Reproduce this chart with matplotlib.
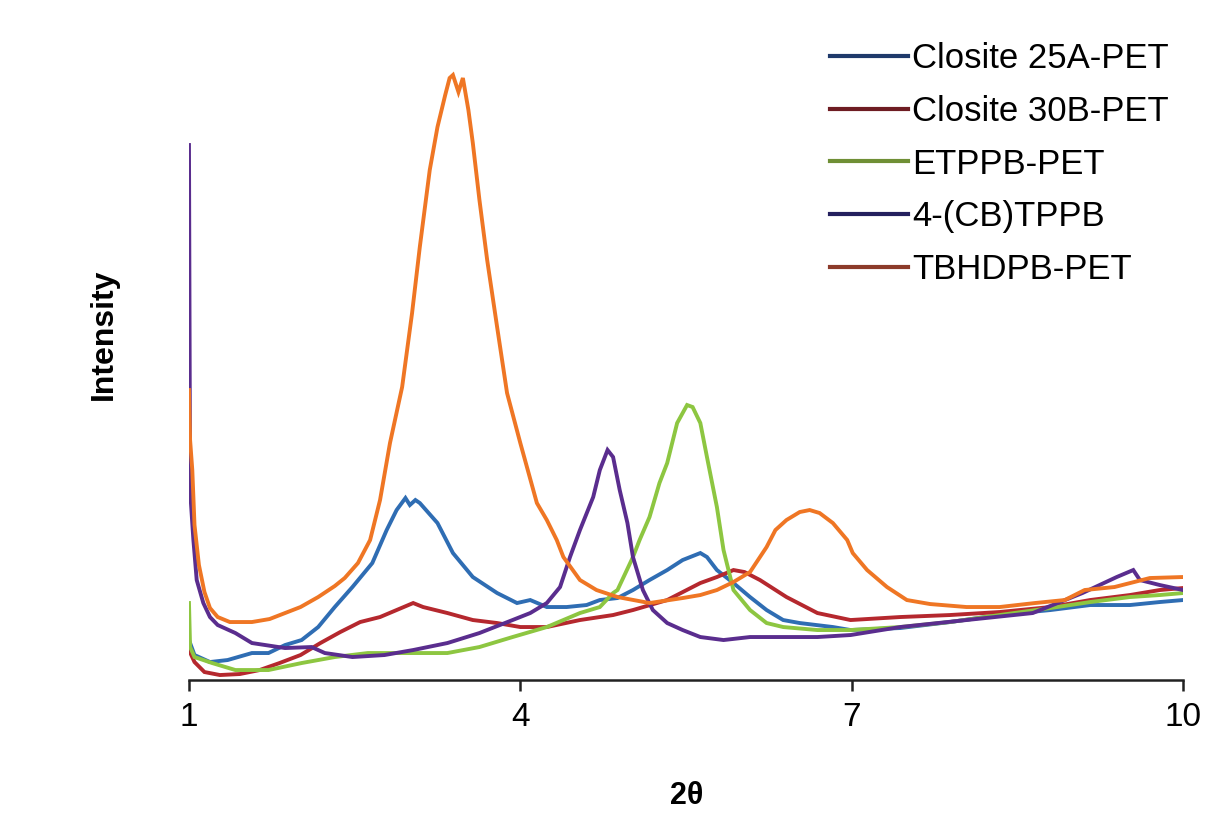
import numpy as np
import matplotlib.pyplot as plt
from matplotlib.lines import Line2D

plt.rcParams['font.family'] = ['Liberation Sans', 'DejaVu Sans']

# XRD patterns, 2theta vs intensity (arbitrary units)
tt_25a = [1.00, 1.05, 1.19, 1.35, 1.57, 1.72, 1.87, 2.02, 2.17, 2.32, 2.48, 2.66, 2.79, 2.88,
          2.96, 3.00, 3.05, 3.09, 3.25, 3.39, 3.57, 3.79, 3.97, 4.09, 4.24, 4.42, 4.60, 4.72,
          4.88, 5.02, 5.17, 5.33, 5.47, 5.63, 5.69, 5.78, 5.93, 6.08, 6.23, 6.38, 6.53, 6.83,
          6.99, 7.44, 7.89, 8.34, 8.80, 9.16, 9.52, 9.79, 10.00]
int_25a = [40, 25, 18, 20, 27, 27, 35, 40, 53, 73, 93, 117, 150, 170,
           182, 175, 180, 177, 157, 127, 103, 87, 77, 80, 73, 73, 75, 80,
           82, 90, 100, 110, 120, 127, 123, 110, 97, 83, 70, 60, 57, 53,
           50, 52, 58, 65, 70, 75, 75, 78, 80]

tt_30b = [1.00, 1.05, 1.14, 1.28, 1.46, 1.64, 1.82, 2.01, 2.19, 2.37, 2.55, 2.73, 2.88, 3.03,
          3.12, 3.34, 3.57, 3.79, 4.00, 4.24, 4.54, 4.84, 5.02, 5.33, 5.63, 5.78, 5.93, 6.03,
          6.17, 6.41, 6.69, 6.99, 7.44, 7.89, 8.34, 8.80, 9.16, 9.52, 9.79, 10.00]
int_30b = [30, 18, 8, 5, 6, 10, 17, 25, 37, 48, 58, 63, 70, 77,
           73, 67, 60, 57, 53, 53, 60, 65, 70, 80, 97, 103, 110, 108,
           100, 83, 67, 60, 63, 65, 68, 73, 80, 85, 90, 92]

tt_etppb = [1.00, 1.01, 1.05, 1.21, 1.42, 1.72, 2.02, 2.32, 2.62, 2.93, 3.34, 3.63, 3.93, 4.24,
            4.54, 4.72, 4.84, 4.88, 5.02, 5.08, 5.17, 5.26, 5.33, 5.42, 5.51, 5.56, 5.63, 5.69,
            5.78, 5.84, 5.93, 6.08, 6.23, 6.38, 6.69, 6.99, 7.44, 7.89, 8.34, 8.80, 9.16, 9.52,
            9.79, 10.00]
int_etppb = [77, 33, 23, 17, 10, 10, 17, 23, 27, 27, 27, 33, 43, 53,
             67, 73, 87, 90, 123, 140, 163, 197, 217, 257, 275, 273, 257, 223,
             173, 130, 90, 70, 57, 53, 50, 50, 53, 58, 65, 72, 78, 83,
             85, 87]

tt_cb = [1.00, 1.01, 1.04, 1.07, 1.13, 1.19, 1.26, 1.42, 1.57, 1.87, 2.11, 2.23, 2.48, 2.77,
         3.03, 3.34, 3.63, 3.93, 4.09, 4.24, 4.36, 4.45, 4.54, 4.66, 4.72, 4.79, 4.84, 4.90,
         4.97, 5.02, 5.11, 5.20, 5.33, 5.47, 5.63, 5.84, 6.08, 6.38, 6.69, 6.99, 7.44, 8.04,
         8.64, 9.09, 9.40, 9.55, 9.61, 9.79, 10.00]
int_cb = [535, 190, 140, 100, 77, 63, 55, 47, 37, 32, 33, 27, 23, 25,
          30, 37, 47, 60, 67, 77, 93, 123, 150, 183, 210, 230, 223, 190,
          157, 123, 90, 70, 57, 50, 43, 40, 43, 43, 43, 45, 53, 60,
          67, 87, 103, 110, 100, 95, 90]

tt_tbhd = [1.00, 1.01, 1.03, 1.05, 1.09, 1.14, 1.19, 1.26, 1.37, 1.57, 1.73, 1.87, 2.01, 2.17,
           2.32, 2.41, 2.53, 2.64, 2.73, 2.82, 2.93, 3.02, 3.09, 3.18, 3.25, 3.32, 3.36, 3.39,
           3.44, 3.48, 3.53, 3.57, 3.63, 3.70, 3.79, 3.88, 4.00, 4.15, 4.24, 4.33, 4.39, 4.54,
           4.69, 4.88, 5.17, 5.47, 5.63, 5.78, 5.93, 6.08, 6.23, 6.31, 6.41, 6.53, 6.62, 6.71,
           6.83, 6.96, 7.01, 7.14, 7.32, 7.50, 7.71, 8.04, 8.34, 8.66, 8.93, 9.11, 9.38, 9.70,
           10.00]
int_tbhd = [290, 240, 210, 155, 115, 88, 72, 63, 58, 58, 61, 67, 73, 83,
            94, 102, 117, 140, 180, 237, 293, 367, 433, 510, 553, 585, 602, 605,
            588, 602, 570, 537, 480, 420, 353, 287, 237, 177, 160, 140, 123, 100,
            90, 83, 77, 82, 85, 90, 98, 108, 133, 150, 160, 168, 170, 167,
            157, 140, 127, 110, 93, 80, 76, 73, 73, 77, 80, 90, 93, 102,
            103]

labels = ['Closite 25A-PET', 'Closite 30B-PET', 'ETPPB-PET', '4-(CB)TPPB', 'TBHDPB-PET']
line_colors = ['#2f6db3', '#b5282e', '#8dc641', '#5a2d8e', '#ef7624']
key_colors = ['#1f3a6b', '#6e1c22', '#6f8f35', '#24205e', '#8c3b2a']

fig = plt.figure(figsize=(12.06, 8.15), dpi=100)
ax = fig.add_axes([0.1567, 0.1656, 0.8242, 0.7853])

series = [(tt_25a, int_25a), (tt_30b, int_30b), (tt_etppb, int_etppb),
          (tt_cb, int_cb), (tt_tbhd, int_tbhd)]
for (x, y), c in zip(series, line_colors):
    ax.plot(x, y, color=c, lw=2.8, solid_joinstyle='miter')

ax.set_xlim(1, 10)
ax.set_ylim(0, 640)
ax.set_xticks([1, 4, 7, 10])
ax.set_yticks([])
for s in ['left', 'right', 'top']:
    ax.spines[s].set_visible(False)
ax.spines['bottom'].set_linewidth(1.8)
ax.spines['bottom'].set_color('#222222')
ax.tick_params(axis='x', length=8, width=1.8, color='#222222', labelsize=24, pad=8)

ax.set_xlabel('2θ', fontsize=22, fontweight='bold')
ax.set_ylabel('Intensity', fontsize=23, fontweight='bold')
ax.xaxis.set_label_coords(0.501, -0.158)
ax.yaxis.set_label_coords(-0.071, 0.54)

handles = [Line2D([], [], color=c, lw=3.0) for c in key_colors]
fig.legend(handles, labels, loc='upper left', bbox_to_anchor=(830 / 1206, 1 - 42 / 815),
           frameon=False, fontsize=25, handlelength=2.25, handletextpad=0.12,
           labelspacing=0.57, borderpad=0, borderaxespad=0)

fig.savefig('out.png', dpi=100)
